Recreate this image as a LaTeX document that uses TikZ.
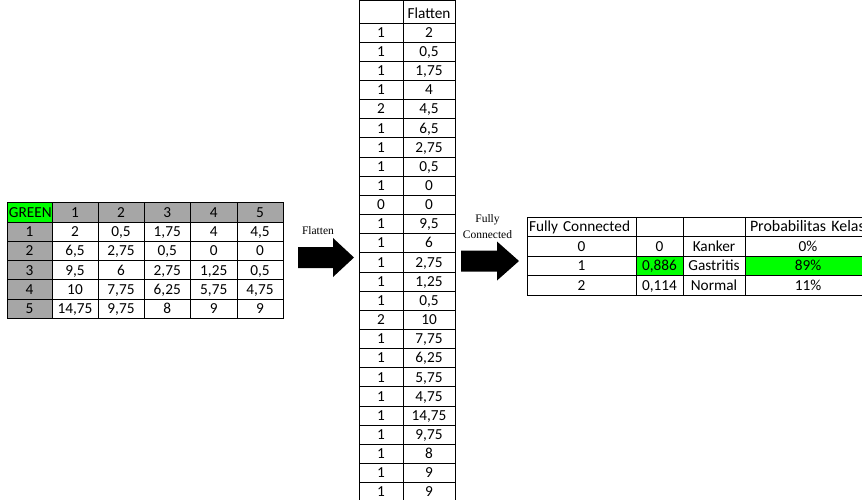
\documentclass[tikz,border=0pt]{standalone}
\usepackage{fontspec}
\setmainfont{Carlito}
\newfontfamily\lblfont{Liberation Serif}
\definecolor{xlgray}{RGB}{166,166,166}
\definecolor{xlgreen}{RGB}{0,255,0}
\tikzset{
  tcell/.style={draw=black, line width=0.9pt, anchor=north west, outer sep=0pt,
    inner xsep=2pt, inner ysep=0pt, minimum height=19.3pt, text height=9.5pt,
    text depth=0pt, font=\fontsize{15.3}{18}\selectfont, align=center},
  lbl/.style={font=\lblfont\fontsize{11.5}{16}\selectfont, align=center, inner sep=0pt},
  blockarrow/.style={fill=black}
}
\newcommand{\LTrow}[9]{%
  \pgfmathsetmacro{\ty}{202.7+19.3*#1}
  \node[tcell, fill=#2, text width=41pt] (L#1c0) at (7,\ty) {#4};
  \node[tcell, fill=#3, text width=42pt] (L#1c1) at (52,\ty) {#5};
  \node[tcell, fill=#3, text width=42pt] (L#1c2) at (98,\ty) {#6};
  \node[tcell, fill=#3, text width=42.5pt] (L#1c3) at (144,\ty) {#7};
  \node[tcell, fill=#3, text width=42.5pt] (L#1c4) at (190.5,\ty) {#8};
  \node[tcell, fill=#3, text width=42pt] (L#1c5) at (237,\ty) {#9};
}
\newcommand{\MTrow}[3]{%
  \pgfmathsetmacro{\ty}{23+19.15*(#1-1)}
  \node[tcell, minimum height=19.15pt, text width=40pt] (M#1a) at (359,\ty) {#2};
  \node[tcell, minimum height=19.15pt, text width=48pt] (M#1b) at (403,\ty) {#3};
}
\newcommand{\RTrow}[7]{%
  \pgfmathsetmacro{\ty}{217+19.5*#1}
  \node[tcell, minimum height=19.5pt, text width=105pt] (R#1a) at (527,\ty) {#2};
  \node[tcell, minimum height=19.5pt, fill=#6, text width=43pt] (R#1b) at (636,\ty) {#3};
  \node[tcell, minimum height=19.5pt, text width=58pt] (R#1c) at (683,\ty) {#4};
  \node[tcell, minimum height=19.5pt, fill=#7, text width=122pt] (R#1d) at (745,\ty) {#5};
}
\begin{document}
\begin{tikzpicture}[x=1pt, y=-1pt]
\path[use as bounding box, clip] (0,0) rectangle (862,499);
\fill[white] (0,0) rectangle (862,499);

% left table
\LTrow{0}{xlgreen}{xlgray}{GREEN}{1}{2}{3}{4}{5}
\LTrow{1}{xlgray}{white}{1}{2}{0,5}{1,75}{4}{4,5}
\LTrow{2}{xlgray}{white}{2}{6,5}{2,75}{0,5}{0}{0}
\LTrow{3}{xlgray}{white}{3}{9,5}{6}{2,75}{1,25}{0,5}
\LTrow{4}{xlgray}{white}{4}{10}{7,75}{6,25}{5,75}{4,75}
\LTrow{5}{xlgray}{white}{5}{14,75}{9,75}{8}{9}{9}

% middle table
\node[tcell, minimum height=23pt, text height=14pt, text width=40pt] (M0a) at (359,0) {};
\node[tcell, minimum height=23pt, text height=14pt, text width=48pt] (M0b) at (403,0) {Flatten};
\MTrow{1}{1}{2}
\MTrow{2}{1}{0,5}
\MTrow{3}{1}{1,75}
\MTrow{4}{1}{4}
\MTrow{5}{2}{4,5}
\MTrow{6}{1}{6,5}
\MTrow{7}{1}{2,75}
\MTrow{8}{1}{0,5}
\MTrow{9}{1}{0}
\MTrow{10}{0}{0}
\MTrow{11}{1}{9,5}
\MTrow{12}{1}{6}
\MTrow{13}{1}{2,75}
\MTrow{14}{1}{1,25}
\MTrow{15}{1}{0,5}
\MTrow{16}{2}{10}
\MTrow{17}{1}{7,75}
\MTrow{18}{1}{6,25}
\MTrow{19}{1}{5,75}
\MTrow{20}{1}{4,75}
\MTrow{21}{1}{14,75}
\MTrow{22}{1}{9,75}
\MTrow{23}{1}{8}
\MTrow{24}{1}{9}
\MTrow{25}{1}{9}

% right table
\node[tcell, minimum height=19.5pt, text width=105pt, align=left] (R0a) at (527,217) {Fully Connected};
\node[tcell, minimum height=19.5pt, text width=43pt] (R0b) at (636,217) {};
\node[tcell, minimum height=19.5pt, text width=58pt] (R0c) at (683,217) {};
\node[tcell, minimum height=19.5pt, inner xsep=5pt, text width=116pt, align=left,
  font=\fontsize{15.9}{18}\selectfont] (R0d) at (745,217) {Probabilitas Kelas};
\RTrow{1}{0}{0}{Kanker}{0\%}{white}{white}
\RTrow{2}{1}{0,886}{Gastritis}{89\%}{xlgreen}{xlgreen}
\RTrow{3}{2}{0,114}{Normal}{11\%}{white}{white}

% arrows
\fill[blockarrow] (298,247) -- (333,247) -- (333,238) -- (354,257.5)
  -- (333,277) -- (333,268) -- (298,268) -- cycle;
\fill[blockarrow] (461,250.5) -- (497,250.5) -- (497,241.5) -- (519,261)
  -- (497,280.5) -- (497,271.5) -- (461,271.5) -- cycle;

% labels
\node[lbl] (flat) at (318,231) {Flatten};
\node[lbl] (fc) at (487.5,226.5) {Fully\\Connected};
\end{tikzpicture}
\end{document}
